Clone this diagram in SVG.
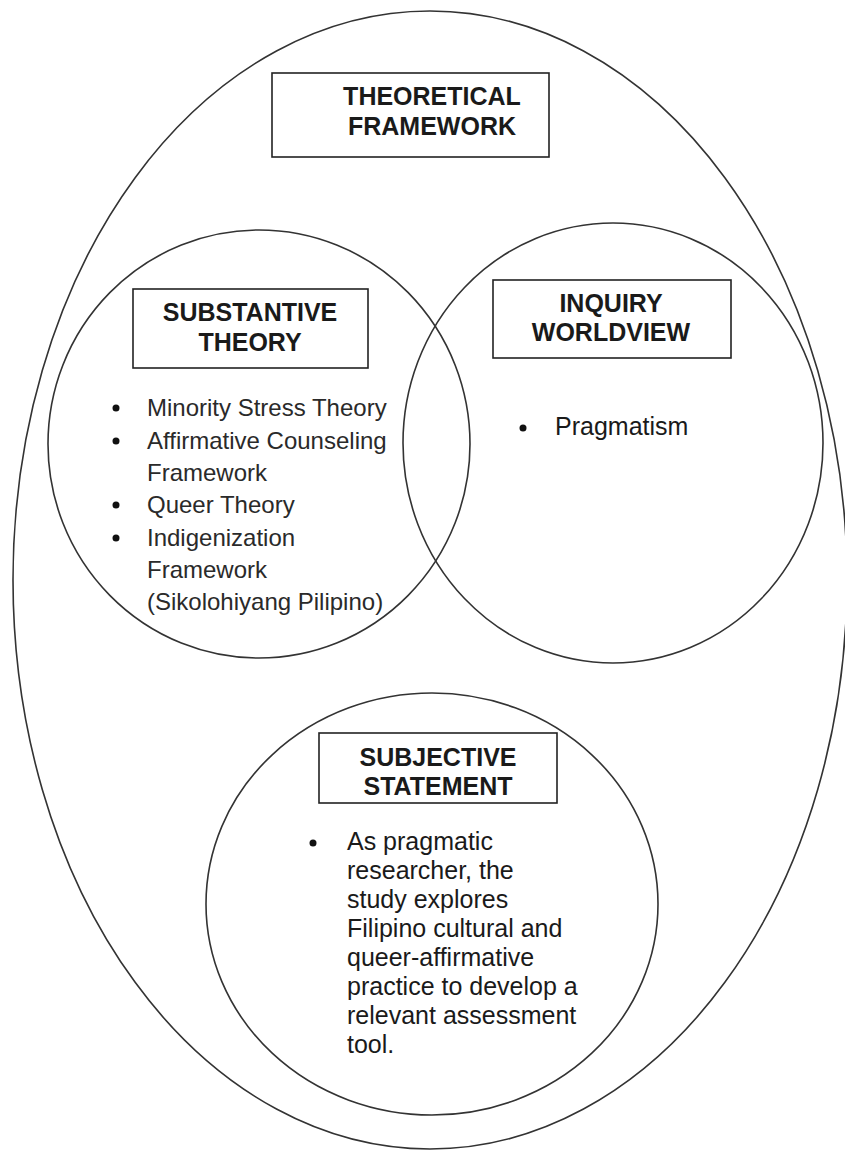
<svg xmlns="http://www.w3.org/2000/svg" width="845" height="1151" viewBox="0 0 845 1151">
<style>
.ring{fill:none;stroke:#333;stroke-width:1.6}
.box{fill:#fff;stroke:#222;stroke-width:1.6}
.hd{font-family:"Liberation Sans",Arial,sans-serif;font-weight:bold;font-size:25px;fill:#1a1a1a;text-anchor:middle}
.li{font-family:"Liberation Sans",Arial,sans-serif;font-size:24px;fill:#2a2a2a}
.tx{font-family:"Liberation Sans",Arial,sans-serif;font-size:25px;fill:#1a1a1a}
.dot{fill:#111}
</style>
<rect width="845" height="1151" fill="#fff"/>
<g id="theoretical-framework">
<ellipse class="ring" cx="430" cy="580" rx="417" ry="569"/>
<rect class="box" x="272" y="73" width="277" height="84"/>
<text class="hd" x="432" y="105">THEORETICAL</text>
<text class="hd" x="432" y="135">FRAMEWORK</text>
</g>
<g id="substantive-theory">
<ellipse class="ring" cx="259" cy="444" rx="211" ry="214"/>
<rect class="box" x="133" y="289" width="235" height="79"/>
<text class="hd" x="250" y="321">SUBSTANTIVE</text>
<text class="hd" x="250" y="351">THEORY</text>
<circle class="dot" cx="116" cy="408" r="3.5"/>
<circle class="dot" cx="116" cy="441" r="3.5"/>
<circle class="dot" cx="116" cy="505" r="3.5"/>
<circle class="dot" cx="116" cy="538" r="3.5"/>
<text class="li" x="147" y="416">Minority Stress Theory</text>
<text class="li" x="147" y="449">Affirmative Counseling</text>
<text class="li" x="147" y="481">Framework</text>
<text class="li" x="147" y="513">Queer Theory</text>
<text class="li" x="147" y="546">Indigenization</text>
<text class="li" x="147" y="578">Framework</text>
<text class="li" x="147" y="610">(Sikolohiyang Pilipino)</text>
</g>
<g id="inquiry-worldview">
<ellipse class="ring" cx="613" cy="443" rx="210" ry="220"/>
<rect class="box" x="493" y="280" width="238" height="78" fill-opacity="0"/>
<text class="hd" x="611" y="312">INQUIRY</text>
<text class="hd" x="611" y="341">WORLDVIEW</text>
<circle class="dot" cx="523" cy="428" r="3.5"/>
<text class="tx" x="555" y="435">Pragmatism</text>
</g>
<g id="subjective-statement">
<ellipse class="ring" cx="432" cy="904" rx="226" ry="211"/>
<rect class="box" x="319" y="733" width="238" height="70"/>
<text class="hd" x="438" y="766">SUBJECTIVE</text>
<text class="hd" x="438" y="795">STATEMENT</text>
<circle class="dot" cx="313" cy="843" r="3.5"/>
<text class="tx" x="347" y="850">As pragmatic</text>
<text class="tx" x="347" y="879">researcher, the</text>
<text class="tx" x="347" y="908">study explores</text>
<text class="tx" x="347" y="937">Filipino cultural and</text>
<text class="tx" x="347" y="966">queer-affirmative</text>
<text class="tx" x="347" y="995">practice to develop a</text>
<text class="tx" x="347" y="1024">relevant assessment</text>
<text class="tx" x="347" y="1053">tool.</text>
</g>
<g id="connectors"></g>
</svg>
